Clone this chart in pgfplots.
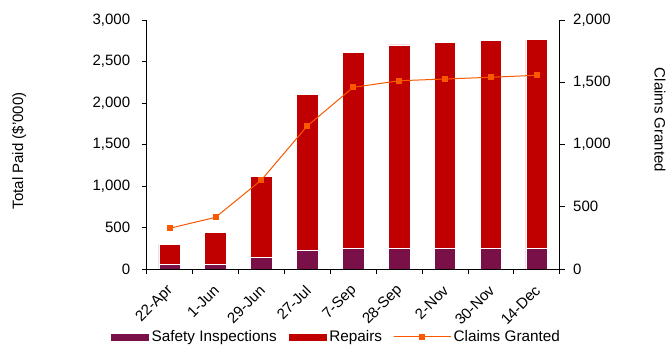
\documentclass[border=0pt]{standalone}
\usepackage{pgfplots}
\pgfplotsset{compat=1.18}
\usepackage{fontspec}
\setmainfont{Liberation Sans}
\definecolor{safety}{RGB}{122,16,72}
\definecolor{repairs}{RGB}{192,0,0}
\definecolor{claims}{RGB}{250,88,0}
\pgfplotsset{
  /pgf/number format/assume math mode=true,
  /pgf/number format/1000 sep={,},
  barleg/.style={legend image code/.code={\draw[##1] (0pt,-4pt) rectangle (39pt,4pt);}},
  lineleg/.style={legend image code/.code={\draw[mark repeat=2,mark phase=2,##1] plot coordinates {(0pt,0pt) (18pt,0pt) (36pt,0pt)};}},
}
\begin{document}
\begin{tikzpicture}[font=\fontsize{15}{17}\selectfont]
\useasboundingbox (-146.7pt,-76pt) rectangle (523.3pt,269pt);
\begin{axis}[
  at={(0pt,0pt)}, anchor=south west,
  scale only axis, width=413pt, height=249pt,
  xmin=-0.5, xmax=8.5, ymin=0, ymax=3000,
  ybar stacked, bar width=0.47,
  axis y line*=left, axis x line*=bottom,
  axis line style={black, line width=0.8pt},
  tick align=outside,
  major tick length=5pt, minor tick length=5pt,
  tick style={black, line width=0.8pt},
  tick label style={font=\fontsize{15}{17}\selectfont},
  xtick={0,...,8},
  xticklabels={22-Apr,1-Jun,29-Jun,27-Jul,7-Sep,28-Sep,2-Nov,30-Nov,14-Dec},
  major x tick style={draw=none},
  minor xtick={-0.5,0.5,...,8.5},
  xticklabel style={xshift=1pt, yshift=-14pt, rotate=45, anchor=east, inner sep=0pt},
  ytick={0,500,...,3000},
  yticklabel style={xshift=-8pt},
  scaled y ticks=false,
  ylabel={Total Paid (\$'000)},
  ylabel style={at={(axis description cs:-0.309,0.474)}, anchor=center, font=\fontsize{15}{17}\selectfont},
  legend style={at={(axis description cs:-0.089,-0.273)}, anchor=west, draw=none, fill=none,
    inner xsep=0pt,
    legend columns=3, font=\fontsize{15.3}{17}\selectfont,
    /tikz/every even column/.append style={column sep=9pt}},
  legend cell align=left,
]
\addplot[fill=safety, draw=white, line width=0.6pt, barleg]
  coordinates {(0,55) (1,55) (2,140) (3,230) (4,250) (5,250) (6,250) (7,250) (8,250)};
\addlegendentry{Safety Inspections}
\addplot[fill=repairs, draw=white, line width=0.6pt, barleg]
  coordinates {(0,245) (1,390) (2,972) (3,1878) (4,2361) (5,2449) (6,2481) (7,2500) (8,2517)};
\addlegendentry{Repairs}
\addlegendimage{claims, line width=1pt, mark=square*, mark size=2.5pt, lineleg}
\addlegendentry{Claims Granted}
\end{axis}
\begin{axis}[
  at={(0pt,0pt)}, anchor=south west,
  scale only axis, width=413pt, height=249pt,
  xmin=-0.5, xmax=8.5, ymin=0, ymax=2000,
  axis y line*=right, axis x line=none,
  axis line style={black, line width=0.8pt},
  tick align=outside,
  major tick length=5pt,
  tick style={black, line width=0.8pt},
  tick label style={font=\fontsize{15}{17}\selectfont},
  yticklabel style={xshift=5pt},
  ytick={0,500,...,2000},
  scaled y ticks=false,
  ylabel={Claims Granted},
  ylabel style={at={(axis description cs:1.243,0.598)}, anchor=center, rotate=180, font=\fontsize{15}{17}\selectfont},
]
\addplot[claims, line width=1pt, mark=square*, mark size=2.5pt]
  coordinates {(0,327) (1,415) (2,715) (3,1149) (4,1459) (5,1512) (6,1526) (7,1540) (8,1556)};
\end{axis}
\end{tikzpicture}
\end{document}
